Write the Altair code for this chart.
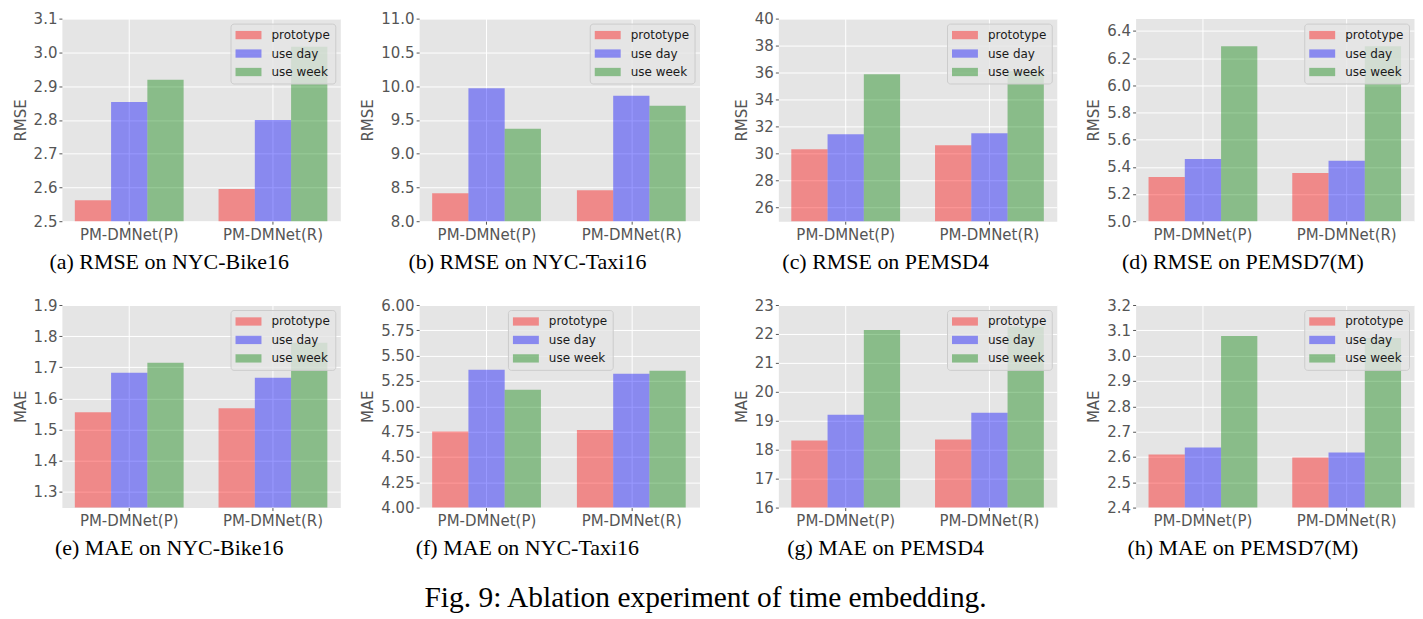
import altair as alt
import pandas as pd

models = ["PM-DMNet(P)", "PM-DMNet(R)"]
series = ["prototype", "use day", "use week"]
colors = ["#ff0000", "#0000ff", "#008000"]

# each inner list: one series, values for [PM-DMNet(P), PM-DMNet(R)]
rmse_bike16 = [[2.562, 2.595], [2.853, 2.800], [2.919, 3.017]]
rmse_taxi16 = [[8.412, 8.457], [9.969, 9.856], [9.370, 9.708]]
rmse_pemsd4 = [[30.33, 30.63], [31.44, 31.51], [35.88, 36.10]]
rmse_pemsd7 = [[5.325, 5.355], [5.458, 5.444], [6.287, 6.287]]
mae_bike16 = [[1.556, 1.569], [1.683, 1.667], [1.715, 1.779]]
mae_taxi16 = [[4.750, 4.767], [5.362, 5.322], [5.164, 5.352]]
mae_pemsd4 = [[18.32, 18.35], [19.21, 19.28], [22.14, 22.25]]
mae_pemsd7 = [[2.610, 2.598], [2.637, 2.618], [3.078, 3.070]]

ticks_a = [2.5, 2.6, 2.7, 2.8, 2.9, 3.0, 3.1]
ticks_b = [8.0, 8.5, 9.0, 9.5, 10.0, 10.5, 11.0]
ticks_c = [26, 28, 30, 32, 34, 36, 38, 40]
ticks_d = [5.0, 5.2, 5.4, 5.6, 5.8, 6.0, 6.2, 6.4]
ticks_e = [1.3, 1.4, 1.5, 1.6, 1.7, 1.8, 1.9]
ticks_f = [4.0, 4.25, 4.5, 4.75, 5.0, 5.25, 5.5, 5.75, 6.0]
ticks_g = [16, 17, 18, 19, 20, 21, 22, 23]
ticks_h = [2.4, 2.5, 2.6, 2.7, 2.8, 2.9, 3.0, 3.1, 3.2]

captions = [
    "(a) RMSE on NYC-Bike16", "(b) RMSE on NYC-Taxi16", "(c) RMSE on PEMSD4", "(d) RMSE on PEMSD7(M)",
    "(e) MAE on NYC-Bike16", "(f) MAE on NYC-Taxi16", "(g) MAE on PEMSD4", "(h) MAE on PEMSD7(M)",
]

SYMBOL = "M-1,-0.64L3,-0.64L3,0.64L-1,0.64Z"
SANS = "DejaVu Sans"


def make_legend(orient="top-right", lx=0, ly=0):
    common = dict(
        title="",
        padding=5,
        offset=5,
        fillColor="rgba(229,229,229,0.8)",
        strokeColor="#cccccc",
        cornerRadius=3,
        symbolType=SYMBOL,
        symbolSize=169,
        symbolOpacity=0.4,
        symbolStrokeWidth=0,
        labelOffset=23,
        rowPadding=5.5,
        labelFont=SANS,
        labelFontSize=12,
        labelColor="#1a1a1a",
    )
    if orient == "none":
        return alt.Legend(orient="none", legendX=lx, legendY=ly, **common)
    return alt.Legend(orient=orient, **common)


def panel(vals, metric, caption, domain, ticks, fmt, width, legend):
    rows = []
    for i, s in enumerate(series):
        for j, m in enumerate(models):
            rows.append({"model": m, "series": s, "value": vals[i][j]})
    df = pd.DataFrame(rows)
    return (
        alt.Chart(df)
        .mark_bar(opacity=0.4, clip=True)
        .encode(
            x=alt.X(
                "model:N",
                sort=models,
                title="",
                scale=alt.Scale(paddingInner=0.243, paddingOuter=0.09),
                axis=alt.Axis(labelAngle=0, grid=True, bandPosition=0.5, labelPadding=3),
            ),
            xOffset=alt.XOffset(
                "series:N", sort=series, scale=alt.Scale(paddingInner=0, paddingOuter=0)
            ),
            y=alt.Y(
                "value:Q",
                title=metric,
                scale=alt.Scale(domain=domain, zero=False, nice=False),
                axis=alt.Axis(values=ticks, format=fmt, labelPadding=2),
            ),
            color=alt.Color(
                "series:N",
                sort=series,
                scale=alt.Scale(domain=series, range=colors),
                legend=legend,
            ),
        )
        .properties(
            width=width,
            height=203,
            title=alt.TitleParams(
                caption,
                orient="bottom",
                anchor="middle",
                dx=-32,
                offset=10,
                font="Liberation Serif",
                fontSize=22,
                fontWeight="normal",
                color="black",
            ),
        )
    )


pa = panel(rmse_bike16, "RMSE", captions[0], [2.5, 3.1], ticks_a, ".1f", 279, make_legend())
pb = panel(rmse_taxi16, "RMSE", captions[1], [8.0, 11.0], ticks_b, ".1f", 281, make_legend())
pc = panel(rmse_pemsd4, "RMSE", captions[2], [25, 40], ticks_c, "d", 279, make_legend())
pd_ = panel(rmse_pemsd7, "RMSE", captions[3], [5.0, 6.49], ticks_d, ".1f", 279, make_legend())
pe = panel(mae_bike16, "MAE", captions[4], [1.25, 1.9], ticks_e, ".1f", 279, make_legend())
pf = panel(mae_taxi16, "MAE", captions[5], [4.0, 6.0], ticks_f, ".2f", 281, make_legend("none", 89, 5))
pg = panel(mae_pemsd4, "MAE", captions[6], [16, 23], ticks_g, "d", 279, make_legend())
ph = panel(mae_pemsd7, "MAE", captions[7], [2.4, 3.2], ticks_h, ".1f", 279, make_legend())

chart = (
    alt.concat(
        pa, pb, pc, pd_, pe, pf, pg, ph,
        columns=4,
        spacing=alt.RowColnumber(row=84, column=79),
        bounds="flush",
    )
    .resolve_scale(color="independent")
    .resolve_legend(color="independent")
    .properties(
        title=alt.TitleParams(
            "Fig. 9: Ablation experiment of time embedding.",
            orient="bottom",
            anchor="middle",
            dx=-8,
            offset=24,
            font="Liberation Serif",
            fontSize=29.5,
            fontWeight="normal",
            color="black",
        ),
        padding={"left": 4, "top": 2, "right": 0, "bottom": 2},
    )
    .configure_view(fill="#e5e5e5", stroke="transparent")
    .configure_axis(
        domain=False,
        gridColor="#ffffff",
        gridWidth=1,
        gridOpacity=1,
        tickColor="#555555",
        tickSize=3,
        labelColor="#555555",
        labelFont=SANS,
        labelFontSize=15,
        titleColor="#555555",
        titleFont=SANS,
        titleFontSize=15,
        titleFontWeight="normal",
        titlePadding=5,
    )
)

chart.save("out.html", embed_options={"renderer": "svg", "actions": False})
